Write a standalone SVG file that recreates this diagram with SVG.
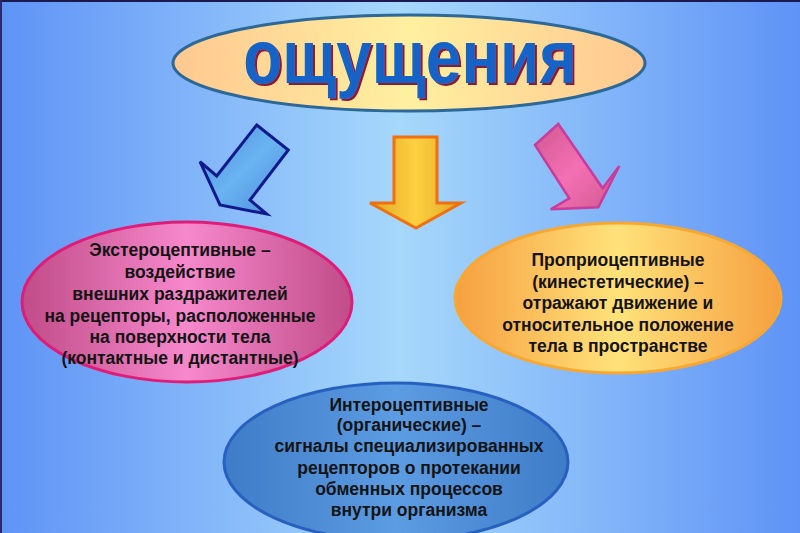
<svg xmlns="http://www.w3.org/2000/svg" width="800" height="533" viewBox="0 0 800 533">
<defs>
<linearGradient id="bg" x1="0" y1="0" x2="1" y2="0">
<stop offset="0" stop-color="#5f93f6"/>
<stop offset="0.5" stop-color="#a6d8fb"/>
<stop offset="1" stop-color="#5f93f6"/>
</linearGradient>
<linearGradient id="gTitle" x1="0" y1="0" x2="1" y2="0">
<stop offset="0" stop-color="#ffc890"/>
<stop offset="0.5" stop-color="#fff0a0"/>
<stop offset="1" stop-color="#ffc890"/>
</linearGradient>
<linearGradient id="gPink" x1="0" y1="0" x2="1" y2="0">
<stop offset="0" stop-color="#c04c88"/>
<stop offset="0.5" stop-color="#f688cc"/>
<stop offset="1" stop-color="#c04c88"/>
</linearGradient>
<linearGradient id="gOrange" x1="0" y1="0" x2="1" y2="0">
<stop offset="0" stop-color="#f6a040"/>
<stop offset="0.5" stop-color="#ffe27a"/>
<stop offset="1" stop-color="#f6a040"/>
</linearGradient>
<linearGradient id="gBlue" x1="0" y1="0" x2="1" y2="0">
<stop offset="0" stop-color="#3f7cc8"/>
<stop offset="0.5" stop-color="#5c9ce2"/>
<stop offset="1" stop-color="#3f7cc8"/>
</linearGradient>
<linearGradient id="gArrBlue" x1="0" y1="0" x2="1" y2="1">
<stop offset="0" stop-color="#4a8ad8"/>
<stop offset="0.5" stop-color="#6ab4f2"/>
<stop offset="1" stop-color="#4a8ad8"/>
</linearGradient>
<linearGradient id="gArrGold" x1="0" y1="0" x2="1" y2="0">
<stop offset="0" stop-color="#dca828"/>
<stop offset="0.5" stop-color="#ffd040"/>
<stop offset="1" stop-color="#dca828"/>
</linearGradient>
<linearGradient id="gArrPink" x1="0" y1="0" x2="1" y2="1">
<stop offset="0" stop-color="#d05890"/>
<stop offset="0.5" stop-color="#f470b4"/>
<stop offset="1" stop-color="#d05890"/>
</linearGradient>
<filter id="shadow" x="-5%" y="-10%" width="110%" height="130%">
<feOffset in="SourceAlpha" dx="2" dy="1.5" result="off"/>
<feFlood flood-color="#8a1a30"/>
<feComposite in2="off" operator="in" result="sh"/>
<feMerge><feMergeNode in="sh"/><feMergeNode in="SourceGraphic"/></feMerge>
</filter>
<style>
.t{font-family:"Liberation Sans",Arial,sans-serif;font-weight:bold;font-size:17.5px;fill:#141414;text-anchor:middle}
.title{font-family:"Liberation Sans",Arial,sans-serif;font-weight:bold;font-size:64px;text-anchor:middle;fill:#1464c8}
</style>
</defs>
<rect x="0" y="0" width="800" height="533" fill="url(#bg)"/>
<rect x="0" y="0" width="800" height="2" fill="#1a1a50"/>
<rect x="0" y="0" width="2" height="533" fill="#2a2a70"/>

<g id="connectors">
<polygon points="256.7,125 288.3,150 250,200 266.7,214 220,205 200,161.7 216.7,176" fill="url(#gArrBlue)" stroke="#101a8c" stroke-width="3" stroke-linejoin="miter"/>
<polygon points="394,137 437,137 437,203 461,203 416,228 370,203 394,203" fill="url(#gArrGold)" stroke="#f07010" stroke-width="3"/>
<polygon points="535,145 558.3,124 602.7,188.3 619.3,166 598.3,207.3 550.7,209.3 569.3,198.3" fill="url(#gArrPink)" stroke="#c83c9c" stroke-width="2.5"/>
</g>

<g id="title">
<ellipse cx="409" cy="63" rx="236" ry="48" fill="url(#gTitle)" stroke="#2c6898" stroke-width="3"/>
<g transform="translate(0,83) scale(1,1.2)" filter="url(#shadow)">
<text class="title" x="410" y="0">ощущения</text>
</g>
</g>

<g id="extero">
<ellipse cx="187" cy="302" rx="165" ry="80" fill="url(#gPink)" stroke="#e01c78" stroke-width="3"/>
<text class="t" x="180" y="256">Экстероцептивные –</text>
<text class="t" x="180" y="278">воздействие</text>
<text class="t" x="180" y="300">внешних раздражителей</text>
<text class="t" x="180" y="322">на рецепторы, расположенные</text>
<text class="t" x="180" y="343">на поверхности тела</text>
<text class="t" x="180" y="364">(контактные и дистантные)</text>
</g>

<g id="proprio">
<ellipse cx="618" cy="298" rx="163" ry="75" fill="url(#gOrange)" stroke="#f8a830" stroke-width="3"/>
<text class="t" x="618" y="266">Проприоцептивные</text>
<text class="t" x="618" y="288">(кинестетические) –</text>
<text class="t" x="618" y="309">отражают движение и</text>
<text class="t" x="618" y="331">относительное положение</text>
<text class="t" x="618" y="352">тела в пространстве</text>
</g>

<g id="intero">
<ellipse cx="396" cy="462" rx="172" ry="79" fill="url(#gBlue)" stroke="#2860c0" stroke-width="3"/>
<text class="t" x="409" y="411">Интероцептивные</text>
<text class="t" x="409" y="431">(органические) –</text>
<text class="t" x="409" y="452">сигналы специализированных</text>
<text class="t" x="409" y="474">рецепторов о протекании</text>
<text class="t" x="409" y="495">обменных процессов</text>
<text class="t" x="409" y="516">внутри организма</text>
</g>
</svg>
